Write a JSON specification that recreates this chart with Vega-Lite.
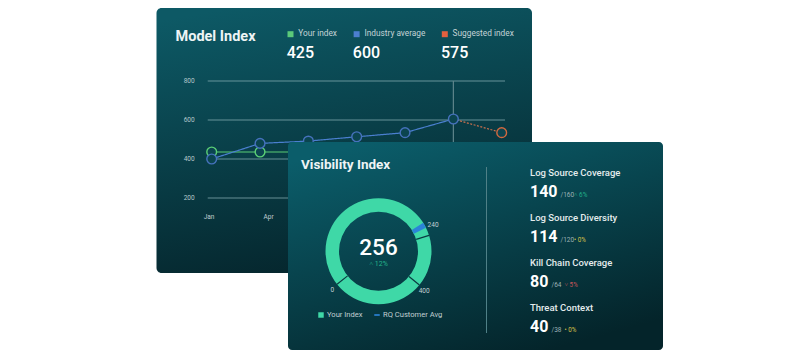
{
  "$schema": "https://vega.github.io/schema/vega-lite/v6.json",
  "width": 789,
  "height": 358,
  "padding": 0,
  "autosize": {"type": "none"},
  "background": "#ffffff",
  "config": {
    "view": {"stroke": null},
    "font": "Roboto",
    "axis": {"disable": true},
    "legend": {"disable": true},
    "text": {"font": "Roboto"}
  },
  "datasets": {
    "trend": [
      {"date": "2023-01-05T00:00:00", "series": "Your index", "value": 436},
      {"date": "2023-03-19T00:00:00", "series": "Your index", "value": 436},
      {"date": "2023-05-31T00:00:00", "series": "Your index", "value": 436},
      {"date": "2023-08-12T00:00:00", "series": "Your index", "value": 425},
      {"date": "2023-01-05T00:00:00", "series": "Industry average", "value": 400},
      {"date": "2023-03-19T00:00:00", "series": "Industry average", "value": 480},
      {"date": "2023-05-31T00:00:00", "series": "Industry average", "value": 492},
      {"date": "2023-08-12T00:00:00", "series": "Industry average", "value": 514},
      {"date": "2023-10-24T00:00:00", "series": "Industry average", "value": 535},
      {"date": "2024-01-05T00:00:00", "series": "Industry average", "value": 605},
      {"date": "2024-01-05T00:00:00", "series": "Suggested index", "value": 605},
      {"date": "2024-03-18T00:00:00", "series": "Suggested index", "value": 535}
    ],
    "kpi": [
      {"metric": "Log Source Coverage", "score": 140, "total": 160, "change": 6, "trend": "up"},
      {"metric": "Log Source Diversity", "score": 114, "total": 120, "change": 0, "trend": "flat"},
      {"metric": "Kill Chain Coverage", "score": 80, "total": 64, "change": 5, "trend": "down"},
      {"metric": "Threat Context", "score": 40, "total": 38, "change": 0, "trend": "flat"}
    ]
  },
  "resolve": {"scale": {"x": "independent", "y": "independent", "color": "independent", "stroke": "independent", "theta": "independent", "shape": "independent", "strokeDash": "independent"}},
  "layer": [
    {
      "data": {"values": [{"card": "Model Index"}]},
      "layer": [
        {
          "mark": {"type": "rect", "cornerRadius": 5, "fill": {"gradient": "linear", "x1": 0.2, "y1": 0, "x2": 0.45, "y2": 1, "stops": [{"offset": 0, "color": "#0d5965"}, {"offset": 1, "color": "#05262d"}]}},
          "encoding": {"x": {"value": 156.5}, "x2": {"value": 532}, "y": {"value": 8}, "y2": {"value": 273}}
        },
        {
          "mark": {"type": "text", "align": "left", "baseline": "alphabetic", "fontSize": 14.5, "fontWeight": "bold", "fill": "#eef4f5"},
          "encoding": {"x": {"value": 175.5}, "y": {"value": 41}, "text": {"field": "card"}}
        }
      ]
    },
    {
      "data": {"values": [
        {"series": "Your index", "current": 425},
        {"series": "Industry average", "current": 600},
        {"series": "Suggested index", "current": 575}
      ]},
      "encoding": {
        "x": {"field": "series", "type": "nominal", "scale": {"type": "point", "domain": ["Your index", "_a", "_b", "Industry average", "_c", "_d", "_e", "Suggested index"], "range": [290.5, 444.8], "padding": 0}}
      },
      "layer": [
        {
          "mark": {"type": "square", "size": 36, "opacity": 1},
          "encoding": {
            "y": {"value": 34.2},
            "color": {"field": "series", "type": "nominal", "scale": {"domain": ["Your index", "Industry average", "Suggested index"], "range": ["#5bc97a", "#4c7fd0", "#e3603f"]}}
          }
        },
        {
          "mark": {"type": "text", "align": "left", "baseline": "middle", "dx": 7.8, "fontSize": 8.3, "fill": "#c3d3d6"},
          "encoding": {"y": {"value": 34.2}, "text": {"field": "series"}}
        },
        {
          "mark": {"type": "text", "align": "left", "baseline": "alphabetic", "dx": -3.8, "fontSize": 16, "fontWeight": 500, "fill": "#ffffff"},
          "encoding": {"y": {"value": 58}, "text": {"field": "current"}}
        }
      ]
    },
    {
      "layer": [
        {
          "data": {"values": [{"v": 200}, {"v": 400}, {"v": 600}, {"v": 800}]},
          "layer": [
            {
              "mark": {"type": "rule", "stroke": "#86aeb3", "strokeWidth": 1, "opacity": 0.75},
              "encoding": {
                "y": {"field": "v", "type": "quantitative", "scale": {"domain": [200, 800], "range": [198, 81], "nice": false, "zero": false}},
                "x": {"datum": {"year": 2022, "month": 12, "date": 30}, "type": "temporal", "scale": {"domain": [{"year": 2023, "month": 1, "date": 5}, {"year": 2024, "month": 3, "date": 18}], "range": [211.7, 501.7], "nice": false}},
                "x2": {"datum": {"year": 2024, "month": 3, "date": 23}}
              }
            },
            {
              "mark": {"type": "text", "align": "center", "baseline": "middle", "fontSize": 6.5, "fill": "#b6c8cb"},
              "encoding": {
                "y": {"field": "v", "type": "quantitative"},
                "x": {"datum": {"year": 2022, "month": 12, "date": 2}, "type": "temporal"},
                "text": {"field": "v", "type": "quantitative"}
              }
            }
          ]
        },
        {
          "data": {"values": [{"month": "2023-01-01T00:00:00"}, {"month": "2023-04-01T00:00:00"}, {"month": "2023-07-01T00:00:00"}, {"month": "2023-10-01T00:00:00"}, {"month": "2024-01-01T00:00:00"}]},
          "mark": {"type": "text", "align": "center", "baseline": "middle", "fontSize": 6.5, "fill": "#c0cfd2"},
          "encoding": {
            "x": {"field": "month", "type": "temporal"},
            "y": {"datum": 102.6},
            "text": {"field": "month", "type": "temporal", "format": "%b"}
          }
        },
        {
          "data": {"values": [{"date": "2024-01-05T00:00:00"}]},
          "mark": {"type": "rule", "stroke": "#5f858b", "strokeWidth": 1.2},
          "encoding": {"x": {"field": "date", "type": "temporal"}, "y": {"datum": 800}, "y2": {"datum": 200}}
        },
        {
          "data": {"name": "trend"},
          "mark": {"type": "line", "strokeWidth": 1.2},
          "encoding": {
            "x": {"field": "date", "type": "temporal"},
            "y": {"field": "value", "type": "quantitative"},
            "color": {"field": "series", "type": "nominal", "scale": {"domain": ["Your index", "Industry average", "Suggested index"], "range": ["#5bcf76", "#4a7fcf", "#c9704e"]}},
            "strokeDash": {"field": "series", "type": "nominal", "scale": {"domain": ["Your index", "Industry average", "Suggested index"], "range": [[1, 0], [1, 0], [2, 1.5]]}}
          }
        },
        {
          "data": {"name": "trend"},
          "transform": [{"filter": "datum.series != 'Suggested index' || datum.value != 605"}],
          "mark": {"type": "point", "shape": "circle", "filled": true, "fill": "#0b4550", "size": 95, "strokeWidth": 1.4, "opacity": 1},
          "encoding": {
            "x": {"field": "date", "type": "temporal"},
            "y": {"field": "value", "type": "quantitative"},
            "stroke": {"field": "series", "type": "nominal", "scale": {"domain": ["Your index", "Industry average", "Suggested index"], "range": ["#5bcf76", "#4672bd", "#d2693f"]}}
          }
        }
      ]
    },
    {
      "data": {"values": [{"card": "Visibility Index"}]},
      "layer": [
        {
          "mark": {"type": "rect", "cornerRadius": 4, "fill": {"gradient": "linear", "x1": 0.2, "y1": 0, "x2": 0.7, "y2": 1, "stops": [{"offset": 0, "color": "#0b5d6a"}, {"offset": 1, "color": "#04242a"}]}},
          "encoding": {"x": {"value": 288}, "x2": {"value": 663}, "y": {"value": 142}, "y2": {"value": 350}}
        },
        {
          "mark": {"type": "text", "align": "left", "baseline": "alphabetic", "fontSize": 13.5, "fontWeight": "bold", "fill": "#eef4f5"},
          "encoding": {"x": {"value": 301}, "y": {"value": 168.5}, "text": {"field": "card"}}
        },
        {
          "mark": {"type": "rule", "stroke": "#4f8087", "strokeWidth": 1},
          "encoding": {"x": {"value": 486.5}, "y": {"value": 167}, "y2": {"value": 333}}
        }
      ]
    },
    {
      "layer": [
        {
          "data": {"values": [{"part": "Your Index", "from": 0, "to": 360}, {"part": "RQ Customer Avg", "from": 57.5, "to": 63.5}]},
          "mark": {"type": "arc", "x": 378.5, "y": 251.3, "innerRadius": 39.5, "outerRadius": 53},
          "encoding": {
            "theta": {"field": "from", "type": "quantitative", "stack": null, "scale": {"domain": [0, 360], "range": [0, 6.283185307179586]}},
            "theta2": {"field": "to"},
            "color": {"field": "part", "type": "nominal", "scale": {"domain": ["Your Index", "RQ Customer Avg"], "range": ["#3fd8a7", "#2b84d8"]}}
          }
        },
        {
          "data": {"values": [{"label": "0", "tick": 231.5, "at": 229.7}, {"label": "240", "tick": 72.5, "at": 64.5}, {"label": "400", "tick": 129.5, "at": 131}]},
          "layer": [
            {
              "mark": {"type": "arc", "x": 378.5, "y": 251.3, "innerRadius": 39.5, "outerRadius": 53, "stroke": "#0b3b42", "strokeWidth": 1.2, "fillOpacity": 0},
              "encoding": {
                "theta": {"field": "tick", "type": "quantitative", "stack": null},
                "theta2": {"field": "tick"}
              }
            },
            {
              "mark": {"type": "text", "x": 378.5, "y": 251.3, "radius": 60.5, "align": "center", "baseline": "middle", "fontSize": 6.5, "fill": "#c3d1d4"},
              "encoding": {
                "theta": {"field": "at", "type": "quantitative", "stack": null},
                "text": {"field": "label"}
              }
            }
          ]
        }
      ]
    },
    {
      "data": {"values": [{"score": 256, "change": "˄ 12%"}]},
      "layer": [
        {
          "mark": {"type": "text", "x": 378.5, "y": 255, "align": "center", "baseline": "alphabetic", "fontSize": 22.5, "fontWeight": 500, "fill": "#ffffff"},
          "encoding": {"text": {"field": "score"}}
        },
        {
          "mark": {"type": "text", "x": 378.5, "y": 263.5, "align": "center", "baseline": "middle", "fontSize": 7, "fill": "#25b48a"},
          "encoding": {"text": {"field": "change"}}
        }
      ]
    },
    {
      "data": {"values": [{"item": "Your Index"}, {"item": "RQ Customer Avg"}]},
      "encoding": {
        "x": {"field": "item", "type": "nominal", "scale": {"type": "point", "domain": ["Your Index", "RQ Customer Avg"], "range": [321, 377], "padding": 0}},
        "y": {"value": 315}
      },
      "layer": [
        {
          "mark": {"type": "point", "filled": true, "opacity": 1, "size": 30},
          "encoding": {
            "shape": {"field": "item", "type": "nominal", "scale": {"domain": ["Your Index", "RQ Customer Avg"], "range": ["square", "M-1,-0.3L1,-0.3L1,0.3L-1,0.3Z"]}},
            "color": {"field": "item", "type": "nominal", "scale": {"domain": ["Your Index", "RQ Customer Avg"], "range": ["#3fd8a7", "#2b84d8"]}}
          }
        },
        {
          "mark": {"type": "text", "align": "left", "baseline": "middle", "dx": 6, "fontSize": 7.6, "fill": "#c0cfd2"},
          "encoding": {"text": {"field": "item"}}
        }
      ]
    },
    {
      "data": {"name": "kpi"},
      "encoding": {
        "y": {"field": "metric", "type": "nominal", "scale": {"type": "point", "domain": ["Log Source Coverage", "Log Source Diversity", "Kill Chain Coverage", "Threat Context"], "range": [173, 308], "padding": 0}},
        "x": {"value": 530}
      },
      "layer": [
        {
          "mark": {"type": "text", "align": "left", "baseline": "middle", "fontSize": 9.5, "fontWeight": 500, "fill": "#e4eced"},
          "encoding": {"text": {"field": "metric"}}
        },
        {
          "mark": {"type": "text", "align": "left", "baseline": "alphabetic", "dy": 23.5, "fontSize": 16, "fontWeight": "bold", "fill": "#ffffff"},
          "encoding": {"text": {"field": "score"}}
        },
        {
          "mark": {"type": "text", "align": "left", "baseline": "alphabetic", "dy": 23.5, "dx": {"expr": "datum.score >= 100 ? 30.5 : 21.5"}, "fontSize": 6.5, "fill": "#9db2b6", "text": {"expr": "'/' + datum.total"}},
          "encoding": {}
        },
        {
          "mark": {"type": "text", "align": "left", "baseline": "alphabetic", "dy": 23.5, "dx": {"expr": "datum.score >= 100 ? 44 : 34.5"}, "fontSize": 6.3, "text": {"expr": "(datum.trend == 'up' ? '˄ ' : datum.trend == 'down' ? '˅ ' : '• ') + datum.change + '%'"}},
          "encoding": {
            "color": {"field": "trend", "type": "nominal", "scale": {"domain": ["up", "flat", "down"], "range": ["#22b08a", "#d5c04a", "#c2555a"]}}
          }
        }
      ]
    }
  ]
}
